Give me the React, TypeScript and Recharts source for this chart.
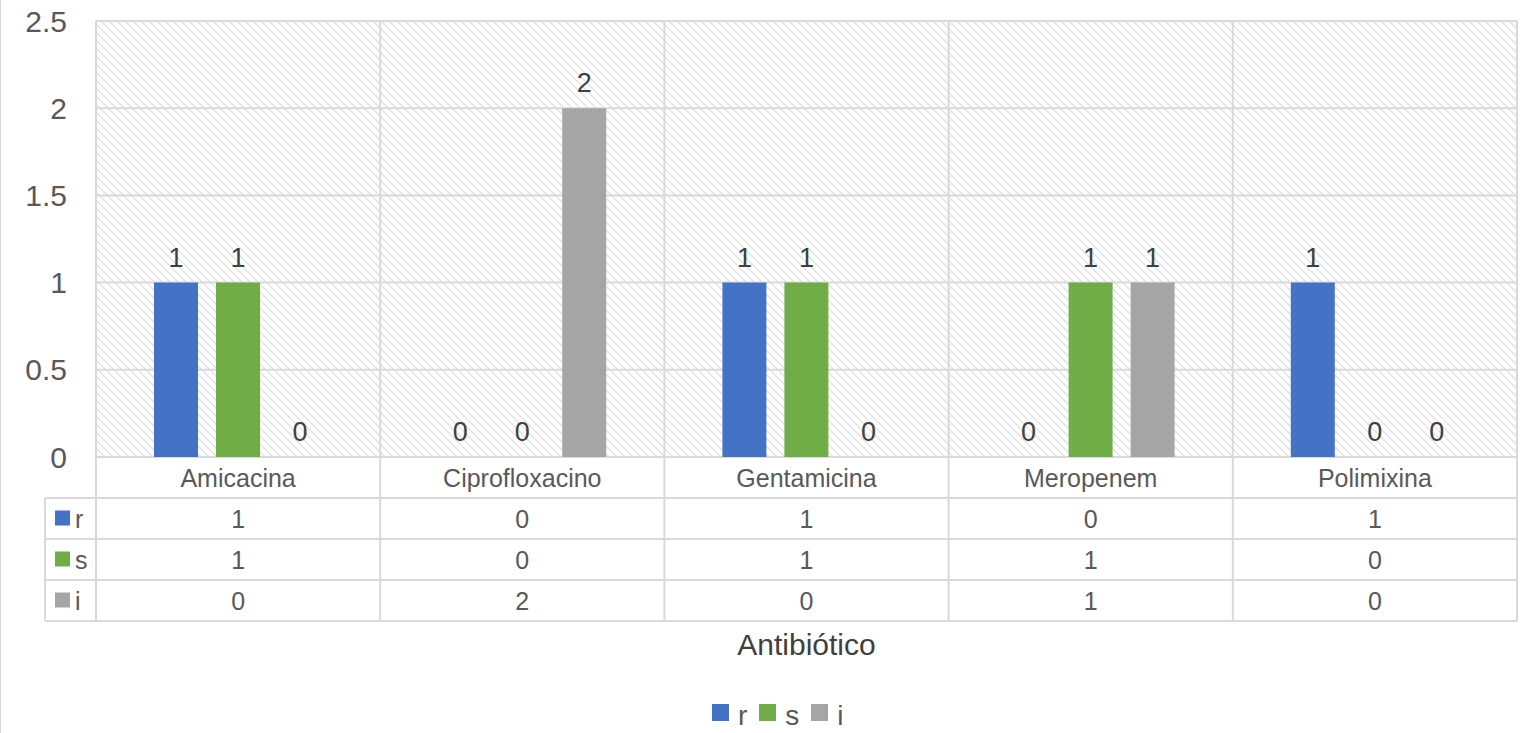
import { BarChart, Bar, XAxis, YAxis, CartesianGrid, Legend, Rectangle } from "recharts"

const categories = ["Amicacina", "Ciprofloxacino", "Gentamicina", "Meropenem", "Polimixina"]
const rValues = [1, 0, 1, 0, 1]
const sValues = [1, 0, 1, 1, 0]
const iValues = [0, 2, 0, 1, 0]
const yTicks = [0, 0.5, 1, 1.5, 2, 2.5]

const series = [
  { key: "r", color: "#4472C4", values: rValues },
  { key: "s", color: "#70AD47", values: sValues },
  { key: "i", color: "#A5A5A5", values: iValues },
]

const data = categories.map((name, k) => ({ name, r: rValues[k], s: sValues[k], i: iValues[k] }))

const CHART_W = 1525
const CHART_H = 733
const MARGIN = { top: 21, right: 8, left: 0, bottom: 71 }
const Y_AXIS_W = 96
const X_AXIS_H = 205
const PLOT_BOTTOM = CHART_H - MARGIN.bottom - X_AXIS_H
const PLOT_W = CHART_W - MARGIN.left - MARGIN.right - Y_AXIS_W
const BAND = PLOT_W / categories.length
const ROW_H = 41
const HEAD_LEFT = 45
const GRID = "#d9d9d9"
const TEXT = "#595959"

function TableTick(props: any) {
  const { x, payload, index } = props
  const left = x - BAND / 2
  const right = x + BAND / 2
  const top = PLOT_BOTTOM
  const bottom = top + ROW_H * (series.length + 1)
  return (
    <g>
      <text x={x} y={top + ROW_H / 2} textAnchor="middle" dominantBaseline="central" fontSize={25} fill={TEXT}>
        {payload.value}
      </text>
      {series.map((s, r) => (
        <text
          key={s.key}
          x={x}
          y={top + ROW_H * (r + 1) + ROW_H / 2}
          textAnchor="middle"
          dominantBaseline="central"
          fontSize={25}
          fill={TEXT}
        >
          {s.values[index]}
        </text>
      ))}
      {series.map((s, r) => (
        <line
          key={"h" + s.key}
          x1={index === 0 ? HEAD_LEFT : left}
          x2={right}
          y1={top + ROW_H * (r + 1)}
          y2={top + ROW_H * (r + 1)}
          stroke={GRID}
          strokeWidth={2}
        />
      ))}
      <line x1={index === 0 ? HEAD_LEFT : left} x2={right} y1={bottom} y2={bottom} stroke={GRID} strokeWidth={2} />
      <line x1={right} x2={right} y1={top} y2={bottom} stroke={GRID} strokeWidth={2} />
      {index === 0 && (
        <g>
          <line x1={left} x2={left} y1={top} y2={bottom} stroke={GRID} strokeWidth={2} />
          <line x1={HEAD_LEFT} x2={HEAD_LEFT} y1={top + ROW_H} y2={bottom} stroke={GRID} strokeWidth={2} />
          {series.map((s, r) => (
            <g key={"k" + s.key}>
              <rect x={55} y={top + ROW_H * (r + 1) + ROW_H / 2 - 8} width={15} height={15} fill={s.color} />
              <text
                x={75}
                y={top + ROW_H * (r + 1) + ROW_H / 2}
                dominantBaseline="central"
                fontSize={25}
                fill={TEXT}
              >
                {s.key}
              </text>
            </g>
          ))}
        </g>
      )}
    </g>
  )
}

// bar plus its value label, so zero bars still get their "0"
function BarWithLabel(props: any) {
  const { x, y, width, height, fill, value } = props
  const v = Array.isArray(value) ? value[1] - value[0] : value
  return (
    <g>
      {height > 0 && <Rectangle x={x} y={y} width={width} height={height} fill={fill} />}
      <text x={x + width / 2} y={y - 16} textAnchor="middle" fontSize={27} fill="#404040">
        {v}
      </text>
    </g>
  )
}

function LegendContent() {
  return (
    <div style={{ display: "flex", alignItems: "flex-start" }}>
      {series.map((s) => (
        <div key={s.key} style={{ display: "flex", alignItems: "flex-start", marginRight: 12 }}>
          <span style={{ display: "inline-block", width: 17, height: 17, marginTop: 4, background: s.color }} />
          <span style={{ marginLeft: 9, fontSize: 28, lineHeight: "32px", color: TEXT }}>{s.key}</span>
        </div>
      ))}
    </div>
  )
}

export default function App() {
  return (
    <div
      style={{
        position: "absolute",
        left: 0,
        top: 0,
        width: CHART_W,
        height: CHART_H,
        background: "#fff",
        overflow: "hidden",
        fontFamily: "'Liberation Sans', Arial, sans-serif",
      }}
    >
      <div style={{ position: "absolute", left: 0, top: 0, width: 1, height: CHART_H, background: GRID }} />
      <BarChart width={CHART_W} height={CHART_H} data={data} margin={MARGIN} barSize={44} barGap={18}>
        <defs>
          <pattern id="hatch" width="8" height="8" patternUnits="userSpaceOnUse">
            <rect width="8" height="8" fill="#ffffff" />
            <path d="M-2,-2 L10,10 M-2,6 L2,10 M6,-2 L10,2" stroke="#d4d4d4" strokeWidth={1.6} strokeDasharray="1.4 1.2" />
          </pattern>
        </defs>
        <CartesianGrid
          fill="url(#hatch)"
          stroke={GRID}
          strokeWidth={2}
          verticalCoordinatesGenerator={({ offset }: any) =>
            Array.from({ length: categories.length + 1 }, (_, k) => offset.left + (k * offset.width) / categories.length)
          }
        />
        <XAxis
          dataKey="name"
          height={X_AXIS_H}
          axisLine={false}
          tickLine={false}
          interval={0}
          tick={(p: any) => <TableTick {...p} />}
          label={{ value: "Antibiótico", position: "insideBottom", offset: 7, fontSize: 30, fill: "#404040" }}
        />
        <YAxis
          width={Y_AXIS_W}
          domain={[0, 2.5]}
          ticks={yTicks}
          axisLine={false}
          tickLine={false}
          tickSize={0}
          tickMargin={29}
          tick={{ fontSize: 30, fill: TEXT }}
        />
        <Legend
          verticalAlign="middle"
          align="center"
          content={<LegendContent />}
          wrapperStyle={{ top: 700, left: 712, width: "auto" }}
        />
        {series.map((s) => (
          <Bar
            key={s.key}
            dataKey={s.key}
            name={s.key}
            fill={s.color}
            isAnimationActive={false}
            shape={(p: any) => <BarWithLabel {...p} />}
          />
        ))}
      </BarChart>
    </div>
  )
}
